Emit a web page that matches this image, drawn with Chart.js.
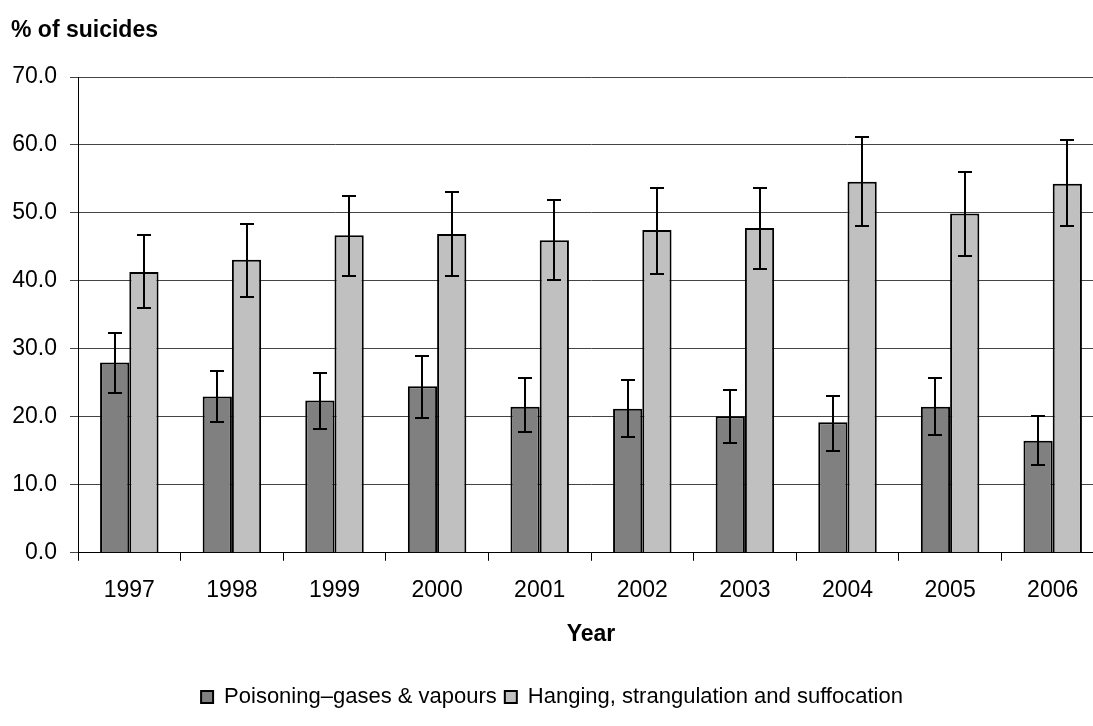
<!DOCTYPE html>
<html>
<head>
<meta charset="utf-8">
<script src="https://cdn.jsdelivr.net/npm/chart.js@4.4.1/dist/chart.umd.min.js"></script>
<style>
  html, body { margin: 0; padding: 0; background: #fff; overflow: hidden; width: 1093px; height: 726px; }
  #wrap { position: absolute; left: 0; top: 0; width: 1104px; height: 726px; }
</style>
</head>
<body>
<div id="wrap"><canvas id="c"></canvas></div>
<script>
const years = ['1997','1998','1999','2000','2001','2002','2003','2004','2005','2006'];
const poisoning     = [28.0, 23.0, 22.4, 24.5, 21.5, 21.2, 20.1, 19.2, 21.5, 16.5];
const poisoningLow  = [23.5, 19.2, 18.2, 19.8, 17.7, 17.1, 16.2, 15.0, 17.4, 12.9];
const poisoningHigh = [32.4, 26.8, 26.5, 28.9, 25.7, 25.4, 23.9, 23.0, 25.7, 20.1];
const hanging       = [41.3, 43.1, 46.7, 46.9, 46.0, 47.5, 47.8, 54.6, 49.9, 54.3];
const hangingLow    = [36.0, 37.7, 40.7, 40.7, 40.1, 41.0, 41.8, 48.1, 43.7, 48.1];
const hangingHigh   = [46.7, 48.4, 52.5, 53.1, 51.9, 53.7, 53.7, 61.1, 56.0, 60.8];
const yTicks = [0, 10, 20, 30, 40, 50, 60, 70];
const seriesNames = ['Poisoning\u2013gases & vapours', 'Hanging, strangulation and suffocation'];

const FONT = "'Liberation Sans', Arial, sans-serif";

const errorBars = {
  id: 'errorBars',
  afterDatasetsDraw(chart) {
    const ctx = chart.ctx;
    const ys = chart.scales.y;
    ctx.save();
    ctx.strokeStyle = '#000';
    ctx.lineWidth = 2;
    chart.data.datasets.forEach((ds, i) => {
      const meta = chart.getDatasetMeta(i);
      meta.data.forEach((bar, j) => {
        const x = Math.round(bar.x);
        const yl = Math.round(ys.getPixelForValue(ds.errLow[j]));
        const yh = Math.round(ys.getPixelForValue(ds.errHigh[j]));
        const cap = 7;
        ctx.beginPath();
        ctx.moveTo(x, yl); ctx.lineTo(x, yh);
        ctx.moveTo(x - cap, yl); ctx.lineTo(x + cap, yl);
        ctx.moveTo(x - cap, yh); ctx.lineTo(x + cap, yh);
        ctx.stroke();
      });
    });
    ctx.restore();
  }
};

const yTitle = {
  id: 'yTitle',
  afterDraw(chart) {
    const ctx = chart.ctx;
    ctx.save();
    ctx.fillStyle = '#000';
    ctx.font = "bold 23px " + FONT;
    ctx.textAlign = 'left';
    ctx.textBaseline = 'alphabetic';
    ctx.fillText('% of suicides', 11, 37);
    ctx.restore();
  }
};

new Chart(document.getElementById('c'), {
  type: 'bar',
  data: {
    labels: years,
    datasets: [
      {
        label: seriesNames[0],
        data: poisoning,
        errLow: poisoningLow,
        errHigh: poisoningHigh,
        backgroundColor: '#808080',
        borderColor: '#000',
        borderWidth: 2
      },
      {
        label: seriesNames[1],
        data: hanging,
        errLow: hangingLow,
        errHigh: hangingHigh,
        backgroundColor: '#c0c0c0',
        borderColor: '#000',
        borderWidth: 2
      }
    ]
  },
  options: {
    responsive: true,
    maintainAspectRatio: false,
    animation: false,
    devicePixelRatio: 1,
    categoryPercentage: 0.57,
    barPercentage: 1.0,
    layout: { padding: { top: 77, left: 0, right: 0, bottom: 8 } },
    plugins: {
      title: { display: false },
      tooltip: { enabled: false },
      legend: {
        display: true,
        position: 'bottom',
        labels: {
          color: '#000',
          font: { family: FONT, size: 22 },
          boxWidth: 12,
          boxHeight: 12,
          padding: 8
        }
      }
    },
    scales: {
      x: {
        offset: true,
        grid: { display: true, drawOnChartArea: false, drawTicks: true, tickLength: 8, color: '#000', offset: true },
        border: { display: true, color: '#000', width: 1 },
        ticks: { color: '#000', font: { family: FONT, size: 23 }, padding: 16, maxRotation: 0 },
        title: { display: true, text: 'Year', color: '#000', font: { family: FONT, size: 23, weight: 'bold' }, padding: { top: 0, bottom: 30 } }
      },
      y: {
        min: 0,
        max: 70,
        afterBuildTicks(scale) { scale.ticks = yTicks.map(v => ({ value: v })); },
        afterFit(scale) { scale.width = 78; },
        grid: { display: true, drawOnChartArea: true, drawTicks: true, tickLength: 8, color: '#444', lineWidth: 1 },
        border: { display: true, color: '#000', width: 1 },
        ticks: { color: '#000', font: { family: FONT, size: 23 }, padding: 13, callback: v => Number(v).toFixed(1) }
      }
    }
  },
  plugins: [errorBars, yTitle]
});
</script>
</body>
</html>
